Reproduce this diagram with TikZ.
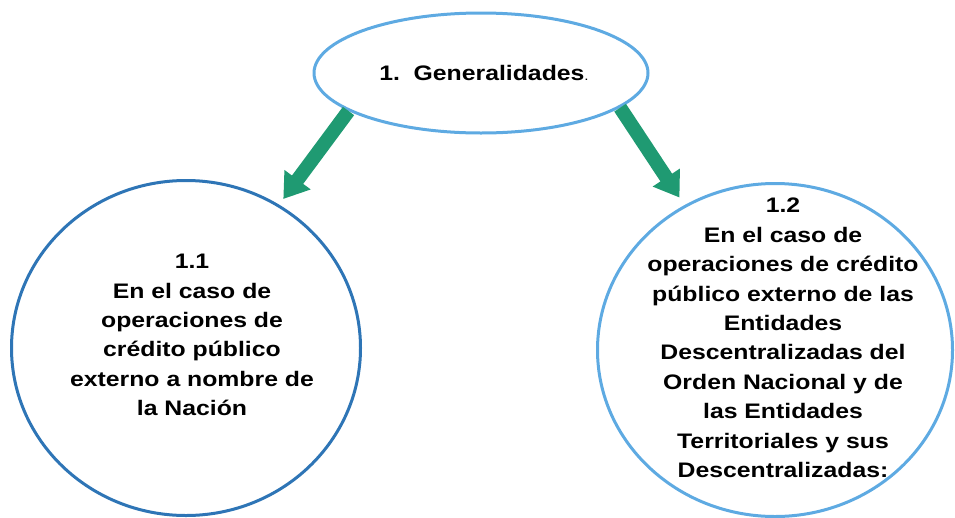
\documentclass[tikz,border=0pt]{standalone}
\usepackage{fontspec}
\setmainfont{Liberation Sans}[FakeStretch=1.18]
\usetikzlibrary{arrows.meta,shapes.geometric}
\definecolor{lightblue}{RGB}{94,170,226}
\definecolor{darkblue}{RGB}{46,117,182}
\definecolor{arrowgreen}{RGB}{31,154,114}
\begin{document}
\begin{tikzpicture}[x=1pt,y=-1pt,
  bubble/.style={draw, ellipse, line width=3pt, fill=white, inner sep=0pt},
  bubbletext/.style={align=center, font=\fontsize{21}{29.4}\selectfont\bfseries, text=black, inner sep=0pt},
  flow/.style={draw=arrowgreen, line width=14pt, -{Triangle[width=31pt,length=24pt]}}
]
\useasboundingbox (0,0) rectangle (955,517);
\node[bubble, draw=lightblue, minimum width=334pt, minimum height=120pt] (top) at (481,73) {};
\node[bubble, draw=darkblue, minimum width=349pt, minimum height=335pt] (c1) at (186,348) {};
\node[bubble, draw=lightblue, minimum width=355pt, minimum height=333pt] (c2) at (775,350) {};
\node[bubbletext] (ttop) at (484,73) {1.\ \ Generalidades{\mdseries\fontsize{13}{13}\selectfont .}};
\node[bubbletext] (t1) at (192,335) {1.1\\En el caso de\\operaciones de\\crédito público\\externo a nombre de\\la Nación};
\node[bubbletext] (t2) at (783,338) {1.2\\En el caso de\\operaciones de crédito\\público externo de las\\Entidades\\Descentralizadas del\\Orden Nacional y de\\las Entidades\\Territoriales y sus\\Descentralizadas:};
\draw[flow, shorten >=7pt] (top.196) -- (c1.57);
\draw[flow, shorten >=9pt] (top.-14) -- (c2.122);
\end{tikzpicture}
\end{document}
